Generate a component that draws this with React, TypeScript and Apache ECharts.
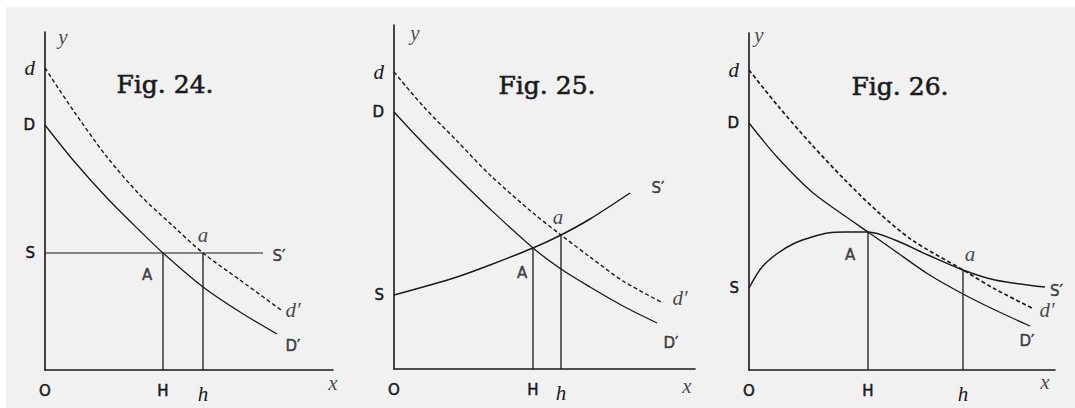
import React, { useEffect, useRef } from "react";
import * as echarts from "echarts";

// ---------- Fig. 24 (constant cost: horizontal supply) ----------
const f24Demand = [[0, 245], [28, 210], [62, 172], [95, 139], [118, 117], [158, 83], [195, 58], [232, 36]];
const f24NewDemand = [[0, 302], [28, 260], [62, 213], [95, 175], [128, 144], [158, 117], [195, 90], [236, 60]];
const f24Supply = [[0, 117], [218, 117]];
const f24Hx = 118;
const f24hx = 158;
const f24APrice = 117;
const f24aPrice = 117;

// ---------- Fig. 25 (increasing cost: rising supply) ----------
const f25Demand = [[0, 257], [29, 226], [63, 192], [96, 160], [139, 121], [167, 100], [196, 82], [229, 63], [263, 46]];
const f25NewDemand = [[0, 297], [29, 263], [63, 228], [96, 194], [139, 156], [167, 134], [196, 112], [229, 88], [269, 66]];
const f25Supply = [[0, 74], [29, 82], [63, 92], [96, 104], [139, 121], [167, 134], [196, 150], [236, 176]];
const f25Hx = 139;
const f25hx = 167;
const f25APrice = 121;
const f25aPrice = 134;

// ---------- Fig. 26 (decreasing cost: falling supply) ----------
const f26Demand = [[0, 247], [29, 212], [63, 178], [96, 154], [119, 138], [146, 119], [179, 96], [214, 76], [246, 60], [281, 44]];
const f26NewDemand = [[0, 300], [29, 264], [63, 225], [96, 190], [129, 158], [163, 130], [214, 100], [246, 81], [283, 62]];
const f26Supply = [[0, 82], [13, 103], [29, 117], [46, 127], [63, 133], [79, 137], [96, 138], [119, 138], [146, 130], [179, 115], [214, 100], [246, 90], [296, 83]];
const f26Hx = 119;
const f26hx = 214;
const f26APrice = 138;
const f26aPrice = 100;

// axis extents (data units)
const axisMaxX = [288, 301, 306];
const axisMaxY = [338, 344, 337];
const figTitles = ["Fig. 24.", "Fig. 25.", "Fig. 26."];

const ink = "#1a1a1a";
const SERIF_IT = "'Liberation Serif', 'DejaVu Serif', serif";
const SANS = "'DejaVu Sans', 'Liberation Sans', sans-serif";
const TITLE_FONT = "'DejaVu Serif', 'Liberation Serif', serif";

const richStyles = {
  i: { fontFamily: SERIF_IT, fontStyle: "italic", fontSize: 21, color: ink },
  s: { fontFamily: SANS, fontSize: 15, color: ink, textBorderColor: ink, textBorderWidth: 0.5 },
};

function curve(data: number[][], idx: number, dashed = false, width = 1.3) {
  return {
    type: "line",
    xAxisIndex: idx,
    yAxisIndex: idx,
    data,
    smooth: 0.3,
    symbol: "none",
    silent: true,
    z: 3,
    lineStyle: { color: ink, width, type: dashed ? [4, 2.6] : "solid", cap: "butt" },
  };
}

function straight(data: number[][], idx: number, width = 1.3) {
  return {
    type: "line",
    xAxisIndex: idx,
    yAxisIndex: idx,
    data,
    smooth: false,
    symbol: "none",
    silent: true,
    z: 3,
    lineStyle: { color: ink, width },
  };
}

type Mark = { text: string; at: number[]; dx: number; dy: number; italic?: boolean; align?: string };

function marks(items: Mark[], idx: number) {
  return {
    type: "scatter",
    xAxisIndex: idx,
    yAxisIndex: idx,
    symbolSize: 1,
    clip: false,
    silent: true,
    z: 5,
    itemStyle: { color: "rgba(0,0,0,0)" },
    data: items.map((m) => ({
      value: m.at,
      label: {
        show: true,
        position: "inside",
        formatter: m.text,
        offset: [m.dx, m.dy],
        align: m.align || "center",
        verticalAlign: "middle",
        color: ink,
        fontFamily: m.italic ? SERIF_IT : SANS,
        fontStyle: m.italic ? "italic" : "normal",
        fontSize: m.italic ? 21 : 15,
        textBorderColor: m.italic ? "transparent" : ink,
        textBorderWidth: m.italic ? 0 : 0.5,
      },
    })),
  };
}

function axesFor(idx: number, xLabels: Record<number, string>, yLabels: Record<number, string>) {
  const x = {
    type: "value",
    gridIndex: idx,
    min: 0,
    max: axisMaxX[idx],
    splitLine: { show: false },
    axisTick: { show: false },
    axisLine: { show: true, onZero: false, lineStyle: { color: ink, width: 1.6 } },
    axisLabel: {
      show: true,
      customValues: Object.keys(xLabels).map(Number),
      margin: 13,
      formatter: (v: number) => xLabels[v] || "",
      rich: richStyles,
    },
  };
  const y = {
    type: "value",
    gridIndex: idx,
    min: 0,
    max: axisMaxY[idx],
    splitLine: { show: false },
    axisTick: { show: false },
    axisLine: { show: true, onZero: false, lineStyle: { color: ink, width: 1.6 } },
    axisLabel: {
      show: true,
      customValues: Object.keys(yLabels).map(Number),
      margin: 10,
      formatter: (v: number) => yLabels[v] || "",
      rich: richStyles,
    },
  };
  return { x, y };
}

function buildOption() {
  const a0 = axesFor(
    0,
    { 0: "{s|O}", [f24Hx]: "{s|H}", [f24hx]: "{i|h}" },
    { [f24NewDemand[0][1]]: "{i|d}", [f24Demand[0][1]]: "{s|D}", [f24Supply[0][1]]: "{s|S}" }
  );
  const a1 = axesFor(
    1,
    { 0: "{s|O}", [f25Hx]: "{s|H}", [f25hx]: "{i|h}" },
    { [f25NewDemand[0][1]]: "{i|d}", [f25Demand[0][1]]: "{s|D}", [f25Supply[0][1]]: "{s|S}" }
  );
  const a2 = axesFor(
    2,
    { 0: "{s|O}", [f26Hx]: "{s|H}", [f26hx]: "{i|h}" },
    { [f26NewDemand[0][1]]: "{i|d}", [f26Demand[0][1]]: "{s|D}", [f26Supply[0][1]]: "{s|S}" }
  );

  const last = (arr: number[][]) => arr[arr.length - 1];

  const series: any[] = [
    // Fig 24
    curve(f24Demand, 0),
    curve(f24NewDemand, 0, true, 1.4),
    straight(f24Supply, 0, 1.2),
    straight([[f24Hx, 0], [f24Hx, f24APrice]], 0),
    straight([[f24hx, 0], [f24hx, f24aPrice]], 0),
    marks(
      [
        { text: "y", at: [0, axisMaxY[0]], dx: 18, dy: 5, italic: true },
        { text: "x", at: [axisMaxX[0], 0], dx: 0, dy: 13, italic: true },
        { text: "A", at: [f24Hx, f24APrice], dx: -16, dy: 22 },
        { text: "a", at: [f24hx, f24aPrice], dx: 0, dy: -18, italic: true },
        { text: "S′", at: last(f24Supply), dx: 16, dy: 3 },
        { text: "d′", at: last(f24NewDemand), dx: 12, dy: 0, italic: true },
        { text: "D′", at: last(f24Demand), dx: 16, dy: 12 },
      ],
      0
    ),
    // Fig 25
    curve(f25Demand, 1),
    curve(f25NewDemand, 1, true, 1.4),
    curve(f25Supply, 1, false, 1.5),
    straight([[f25Hx, 0], [f25Hx, f25APrice]], 1),
    straight([[f25hx, 0], [f25hx, f25aPrice]], 1),
    marks(
      [
        { text: "y", at: [0, axisMaxY[1]], dx: 21, dy: 8, italic: true },
        { text: "x", at: [axisMaxX[1], 0], dx: -8, dy: 17, italic: true },
        { text: "A", at: [f25Hx, f25APrice], dx: -11, dy: 25 },
        { text: "a", at: [f25hx, f25aPrice], dx: -3, dy: -18, italic: true },
        { text: "S′", at: last(f25Supply), dx: 28, dy: -5 },
        { text: "d′", at: last(f25NewDemand), dx: 17, dy: -5, italic: true },
        { text: "D′", at: last(f25Demand), dx: 14, dy: 20 },
      ],
      1
    ),
    // Fig 26
    curve(f26Demand, 2),
    curve(f26NewDemand, 2, true, 1.7),
    curve(f26Supply, 2, false, 1.4),
    straight([[f26Hx, 0], [f26Hx, f26APrice]], 2),
    straight([[f26hx, 0], [f26hx, f26aPrice]], 2),
    marks(
      [
        { text: "y", at: [0, axisMaxY[2]], dx: 10, dy: 2, italic: true },
        { text: "x", at: [axisMaxX[2], 0], dx: -10, dy: 12, italic: true },
        { text: "A", at: [f26Hx, f26APrice], dx: -18, dy: 23 },
        { text: "a", at: [f26hx, f26aPrice], dx: 7, dy: -16, italic: true },
        { text: "S′", at: last(f26Supply), dx: 5, dy: 4, align: "left" },
        { text: "d′", at: last(f26NewDemand), dx: 15, dy: 2, italic: true },
        { text: "D′", at: last(f26Demand), dx: -3, dy: 15 },
      ],
      2
    ),
  ];

  return {
    animation: false,
    backgroundColor: "#f1f1f1",
    grid: [
      { left: 45, top: 32, width: 288, height: 338, containLabel: false, outerBoundsMode: "none" },
      { left: 394, top: 25, width: 301, height: 344, containLabel: false, outerBoundsMode: "none" },
      { left: 749, top: 33, width: 306, height: 337, containLabel: false, outerBoundsMode: "none" },
    ],
    xAxis: [a0.x, a1.x, a2.x],
    yAxis: [a0.y, a1.y, a2.y],
    graphic: [
      { type: "rect", left: 0, top: 0, shape: { width: 1075, height: 7 }, style: { fill: "#ffffff" }, z: -1, silent: true },
      { type: "rect", left: 0, top: 0, shape: { width: 6, height: 408 }, style: { fill: "#ffffff" }, z: -1, silent: true },
      ...[
        [165, 84],
        [547, 85],
        [900, 86],
      ].map((p, i) => ({
        type: "text",
        x: p[0],
        y: p[1],
        silent: true,
        style: {
          text: figTitles[i],
          fill: ink,
          stroke: ink,
          lineWidth: 0.6,
          font: `25px ${TITLE_FONT}`,
          align: "center",
          verticalAlign: "middle",
        },
      })),
    ],
    series,
  };
}

export default function App() {
  const ref = useRef<HTMLDivElement>(null);
  useEffect(() => {
    if (!ref.current) return;
    const chart = echarts.init(ref.current, null, { renderer: "svg" });
    chart.setOption(buildOption() as any);
    return () => chart.dispose();
  }, []);
  return (
    <div
      ref={ref}
      style={{ position: "fixed", left: 0, top: 0, width: 1075, height: 408 }}
    />
  );
}
